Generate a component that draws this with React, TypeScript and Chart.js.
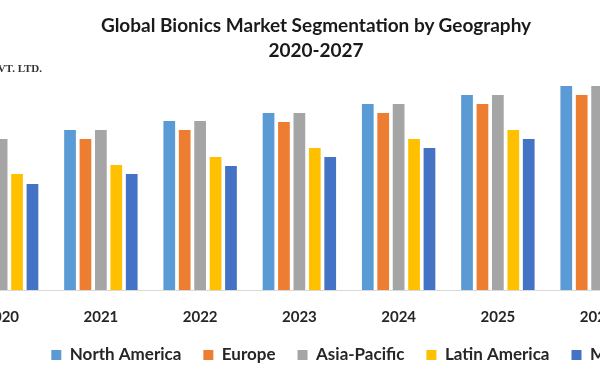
import React, { useEffect, useRef } from "react";
import { Chart, registerables } from "chart.js";

Chart.register(...registerables);

const years = ["2020", "2021", "2022", "2023", "2024", "2025", "2026", "2027"];
const northAmerica = [15.1, 16.0, 16.9, 17.7, 18.6, 19.5, 20.4, 21.3];
const europe = [14.2, 15.1, 16.0, 16.8, 17.7, 18.6, 19.5, 20.4];
const asiaPacific = [15.1, 16.0, 16.9, 17.7, 18.6, 19.5, 20.4, 21.3];
const latinAmerica = [11.6, 12.5, 13.3, 14.2, 15.1, 16.0, 16.8, 17.7];
const middleEastAfrica = [10.6, 11.6, 12.4, 13.3, 14.2, 15.1, 16.0, 16.8];
const seriesNames = ["North America", "Europe", "Asia-Pacific", "Latin America", "Middle East & Africa"];
const seriesColors = ["#5B9BD5", "#ED7D31", "#A5A5A5", "#FFC000", "#4472C4"];
const titleLines = ["Global Bionics Market Segmentation by Geography", "2020-2027"];
const watermark = "MAXIMIZE MARKET RESEARCH PVT. LTD.";

export default function App() {
  const ref = useRef<HTMLCanvasElement>(null);

  useEffect(() => {
    const values = [northAmerica, europe, asiaPacific, latinAmerica, middleEastAfrica];
    const chart = new Chart(ref.current as HTMLCanvasElement, {
      type: "bar",
      data: {
        labels: years,
        datasets: values.map((d, i) => ({
          label: seriesNames[i],
          data: d,
          backgroundColor: seriesColors[i],
          borderWidth: 0,
          categoryPercentage: 0.777,
          barPercentage: 0.76,
        })),
      },
      options: {
        animation: false,
        responsive: false,
        maintainAspectRatio: false,
        layout: { padding: { top: 60, bottom: 6.5, left: 0, right: 0 } },
        plugins: {
          legend: {
            position: "bottom",
            labels: {
              boxWidth: 10,
              boxHeight: 10,
              padding: 22,
              color: "#262626",
              font: { family: "Lato", size: 17, weight: "bold" },
            },
          },
          title: { display: false },
          tooltip: { enabled: false },
        },
        scales: {
          x: {
            grid: { display: false, drawTicks: false },
            border: { display: true, color: "#d9d9d9", width: 1 },
            ticks: {
              padding: 18.5,
              color: "#262626",
              font: { family: "Lato", size: 15, weight: "bold" },
            },
            afterFit: (s: any) => {
              s.height = 34.5;
            },
          },
          y: {
            position: "right",
            min: 0,
            max: 23,
            display: true,
            grid: { display: false, drawTicks: false },
            border: { display: false },
            ticks: { display: false },
            afterFit: (s: any) => {
              s.width = 98;
            },
          },
        },
      },
    });
    return () => chart.destroy();
  }, []);

  return (
    <div
      style={{
        position: "fixed",
        left: 0,
        top: 0,
        width: 600,
        height: 380,
        overflow: "hidden",
        background: "#fff",
      }}
    >
      <canvas
        ref={ref}
        width={892}
        height={380}
        style={{ position: "absolute", left: -48, top: 0, width: 892, height: 380 }}
      />
      <div
        style={{
          position: "absolute",
          left: 16,
          top: 12,
          width: 600,
          textAlign: "center",
          font: "bold 19px Lato",
          lineHeight: "25px",
          color: "#1a1a1a",
        }}
      >
        {titleLines.map((t) => (
          <div key={t}>{t}</div>
        ))}
      </div>
      <div
        style={{
          position: "absolute",
          right: 558,
          top: 62,
          whiteSpace: "nowrap",
          font: "bold 11px 'Liberation Serif'",
          color: "#333",
        }}
      >
        {watermark}
      </div>
    </div>
  );
}
